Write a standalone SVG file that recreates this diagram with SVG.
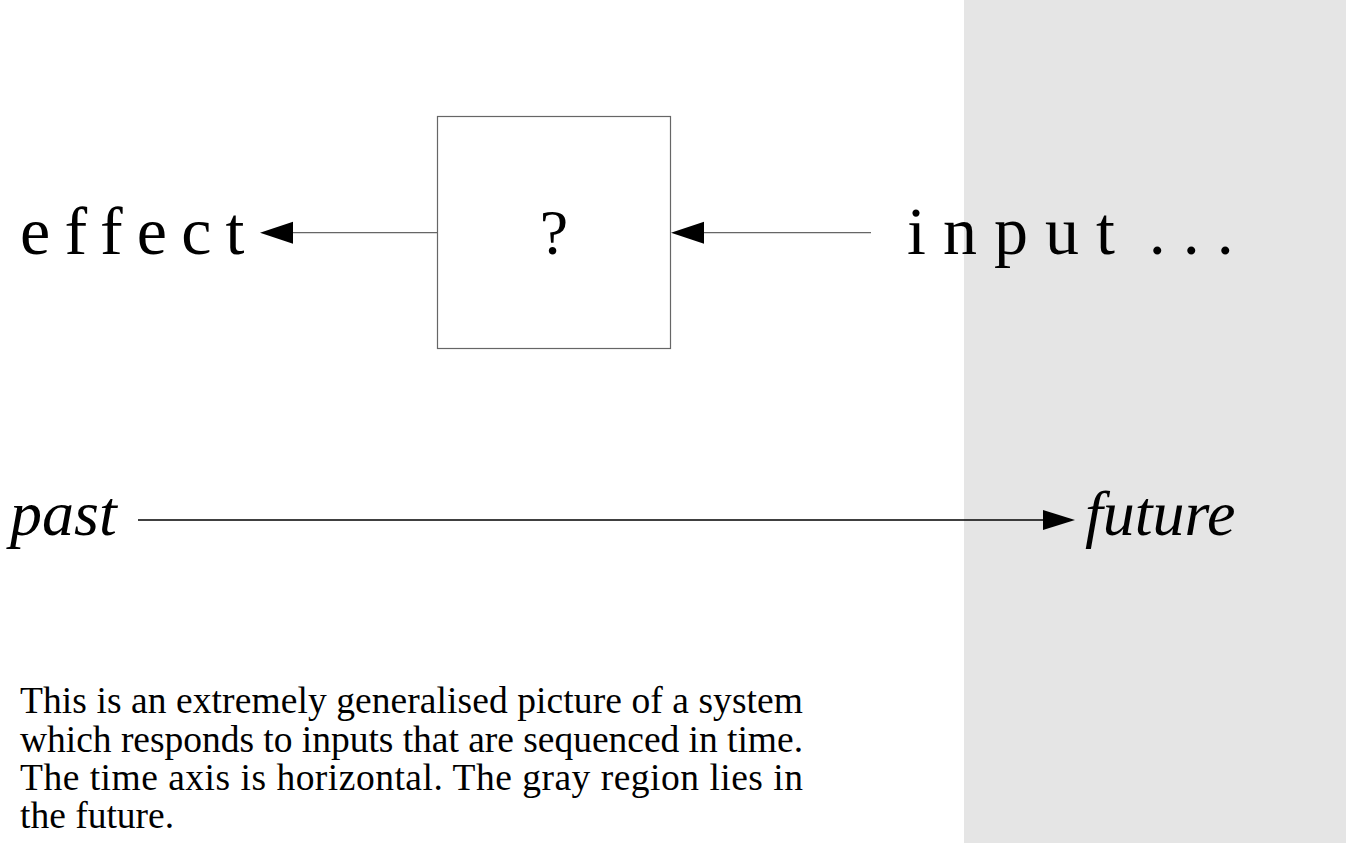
<svg xmlns="http://www.w3.org/2000/svg" width="1346" height="843" viewBox="0 0 1346 843">
  <style>
    .label { font-family: "Liberation Serif", "Times New Roman", serif; font-size: 64px; fill: #000; }
    .spaced { font-size: 68px; }
    .italic { font-style: italic; }
    .note { font-family: "Liberation Serif", "Times New Roman", serif; font-size: 37.5px; fill: #000; }
    .box { fill: #fff; stroke: #666; stroke-width: 1.2; }
    .wire { stroke: #666; stroke-width: 1.3; fill: none; }
    .axis { stroke: #000; stroke-width: 1.4; fill: none; }
    .head { fill: #000; stroke: none; }
  </style>

  <!-- future region -->
  <rect id="future-region" x="964" y="0" width="382" height="843" fill="#e5e5e5"/>

  <!-- connectors -->
  <g id="connectors">
    <line class="wire" x1="293" y1="232.7" x2="437.5" y2="232.7"/>
    <polygon class="head" points="260,232.7 293,221.7 293,243.7"/>
    <line class="wire" x1="704" y1="232.7" x2="871" y2="232.7"/>
    <polygon class="head" points="671,232.7 704,221.7 704,243.7"/>
    <line class="axis" x1="138" y1="520" x2="1044" y2="520"/>
    <polygon class="head" points="1075,520 1043,510 1043,530"/>
  </g>

  <g id="system">
    <rect class="box" x="437.5" y="116.5" width="233" height="232"/>
    <text class="label" x="554" y="254" text-anchor="middle">?</text>
  </g>

  <g id="effect">
    <text class="label spaced" x="20" y="254" letter-spacing="14.2">effect</text>
  </g>

  <g id="input">
    <text class="label spaced" x="907" y="254" xml:space="preserve">i n p u t  . . .</text>
  </g>

  <g id="past">
    <text class="label italic" x="10" y="535">past</text>
  </g>

  <g id="future">
    <text class="label italic" x="1085" y="535">future</text>
  </g>

  <g id="caption">
    <text class="note" x="20" y="713" textLength="783" lengthAdjust="spacing">This is an extremely generalised picture of a system</text>
    <text class="note" x="20" y="752" textLength="783" lengthAdjust="spacing">which responds to inputs that are sequenced in time.</text>
    <text class="note" x="20" y="790" textLength="783" lengthAdjust="spacing">The time axis is horizontal. The gray region lies in</text>
    <text class="note" x="20" y="828">the future.</text>
  </g>
</svg>
